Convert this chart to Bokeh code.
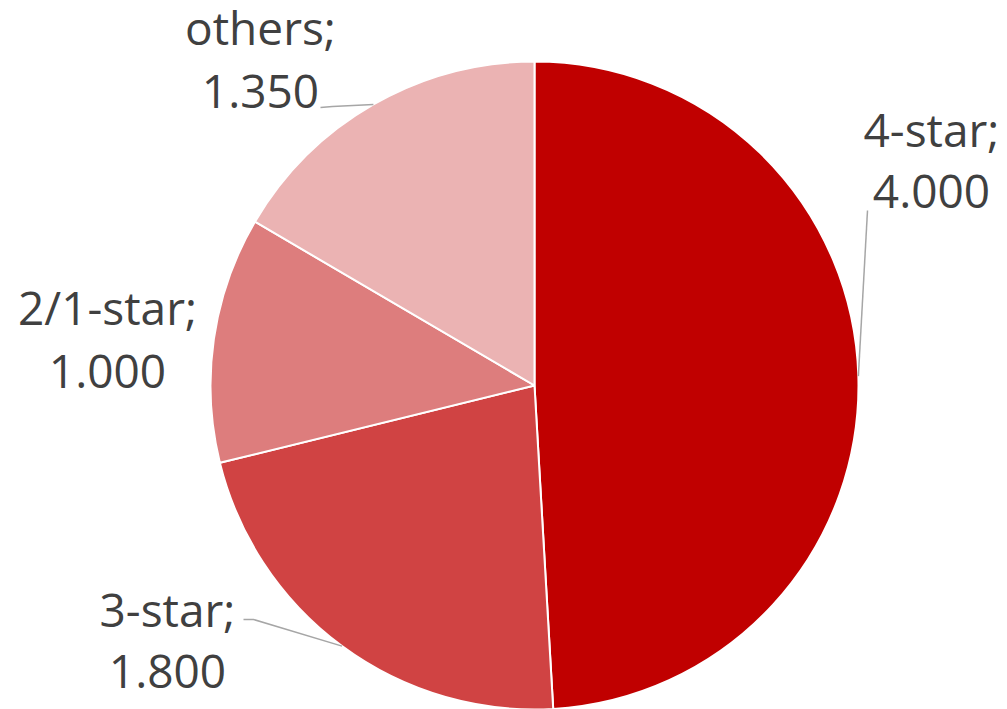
import math
from bokeh.plotting import figure
from bokeh.models import Range1d, ColumnDataSource
from bokeh.core.properties import value
from bokeh.embed import file_html
from bokeh.resources import INLINE

# ---- data ----
categories = ["4-star", "3-star", "2/1-star", "others"]
values = [4.000, 1.800, 1.000, 1.350]
colors = ["#C00000", "#D04343", "#DD7D7D", "#EBB3B3"]

# ---- layout (screen px) ----
W, H = 1007, 709
cx, cy, R = 534, 385, 324
FONT = "Open Sans"
FS = "46px"
TXT = "#404040"
BASE_SHIFT = 17
# label centre x, baseline of first line, baseline of second line
label_pos = {
    "4-star": (931, 145, 208),
    "3-star": (167, 625, 688),
    "2/1-star": (107, 323, 388),
    "others": (260, 43, 108),
}
# leader-line start points (label side), None -> no leader
leader_start = {
    "4-star": [(867, 210)],
    "3-star": [(243, 619), (253, 619)],
    "2/1-star": None,
    "others": [(320, 107), (332, 106)],
}

p = figure(width=W, height=H, output_backend="svg", toolbar_location=None,
           x_range=Range1d(0, W), y_range=Range1d(0, H), min_border=0)
p.axis.visible = False
p.grid.visible = False
p.outline_line_color = None
p.background_fill_color = "white"
p.border_fill_color = "white"

total = sum(values)
starts, ends, mids = [], [], []
cum = 0.0
for v in values:
    a0 = cum / total
    a1 = (cum + v) / total
    # clockwise from 12 o'clock -> bokeh angles (ccw from +x)
    starts.append(math.pi / 2 - a1 * 2 * math.pi)
    ends.append(math.pi / 2 - a0 * 2 * math.pi)
    mids.append((a0 + a1) / 2)
    cum += v

src = ColumnDataSource(dict(cat=categories, start=starts, end=ends, color=colors))
p.wedge(x=cx, y=H - cy, radius=R, start_angle="start", end_angle="end",
        fill_color="color", line_color="white", line_width=2, source=src)

# leader lines
for cat, m in zip(categories, mids):
    pts = leader_start[cat]
    if not pts:
        continue
    th = m * 2 * math.pi
    ex = cx + R * math.sin(th)
    ey = cy - R * math.cos(th)
    xs = [q[0] for q in pts] + [ex]
    ys = [H - q[1] for q in pts] + [H - ey]
    p.line(xs, ys, line_color="#A6A6A6", line_width=1.5)

# labels
l1x, l1y, l2y, t1, t2 = [], [], [], [], []
for cat, v in zip(categories, values):
    x, b1, b2 = label_pos[cat]
    l1x.append(x); l1y.append(H - b1 + BASE_SHIFT); l2y.append(H - b2 + BASE_SHIFT)
    t1.append(cat + ";"); t2.append("%.3f" % v)
p.text(x=l1x, y=l1y, text=t1, text_font=value(FONT), text_font_size=FS,
       text_color=TXT, text_align="center", text_baseline="alphabetic")
p.text(x=l1x, y=l2y, text=t2, text_font=value(FONT), text_font_size=FS,
       text_color=TXT, text_align="center", text_baseline="alphabetic")

open("out.html", "w").write(file_html(p, INLINE))
